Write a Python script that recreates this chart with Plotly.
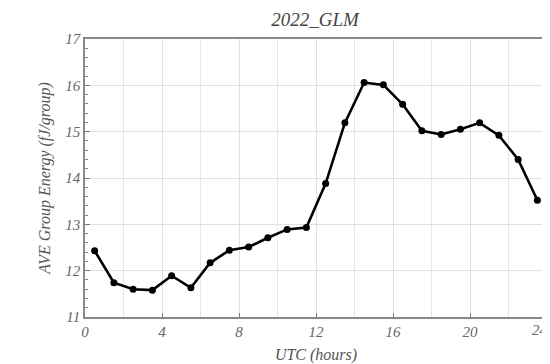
import plotly.graph_objects as go

hours = [0.5, 1.5, 2.5, 3.5, 4.5, 5.5, 6.5, 7.5, 8.5, 9.5, 10.5, 11.5,
         12.5, 13.5, 14.5, 15.5, 16.5, 17.5, 18.5, 19.5, 20.5, 21.5, 22.5, 23.5]
energy = [12.43, 11.74, 11.60, 11.58, 11.89, 11.63, 12.17, 12.44, 12.51, 12.71, 12.89, 12.93,
          13.88, 15.19, 16.06, 16.01, 15.59, 15.02, 14.94, 15.05, 15.19, 14.92, 14.40, 13.52]

x_ticks = [0, 4, 8, 12, 16, 20, 24]
title_text = "2022_GLM"
x_title = "UTC (hours)"
y_title = "AVE Group Energy (fJ/group)"

serif = "Liberation Serif, Times New Roman, serif"
tick_font = dict(family=serif, size=15, color="#666", style="italic")

# page body has an 8px default margin; figure sized to fit the 550x364 window
W, H = 542, 356

fig = go.Figure()
fig.add_trace(go.Scatter(
    x=hours, y=energy, mode="lines+markers",
    line=dict(color="black", width=2.6),
    marker=dict(color="black", size=7, symbol="circle"),
    showlegend=False,
    cliponaxis=False,
))

fig.update_layout(
    width=W, height=H,
    margin=dict(l=77, r=3, t=31, b=47, autoexpand=False),
    paper_bgcolor="white", plot_bgcolor="white",
    title=dict(text=title_text, x=307 / W, xanchor="center", y=1 - 11 / H, yanchor="middle",
               xref="container", yref="container",
               font=dict(family=serif, size=19, color="#444", style="italic")),
    font=dict(family=serif, color="#555"),
)
# last tick label at the right edge of the page, kept fully visible
fig.add_annotation(x=x_ticks[-1], y=0, xref="x", yref="paper", text=str(x_ticks[-1]),
                   showarrow=False, xanchor="right", yanchor="top", yshift=-3, xshift=3,
                   font=tick_font)
fig.update_xaxes(
    range=[0, 24], tickmode="array", tickvals=x_ticks[:-1],
    ticktext=[str(t) for t in x_ticks[:-1]],
    automargin=False,
    showgrid=True, gridcolor="#e0e0e0", gridwidth=1,
    minor=dict(dtick=2, showgrid=True, gridcolor="#e6e6e6", gridwidth=1),
    ticks="inside", ticklen=4, tickcolor="#777",
    showline=True, linecolor="#888", linewidth=1.5, mirror=True,
    zeroline=False,
    tickfont=tick_font,
    title=dict(text=x_title, standoff=12,
               font=dict(family=serif, size=16, color="#555", style="italic")),
)
fig.update_yaxes(
    range=[11, 17], tickmode="linear", tick0=11, dtick=1,
    automargin=False,
    showgrid=True, gridcolor="#e0e0e0", gridwidth=1,
    ticks="inside", ticklen=5, tickcolor="#777",
    minor=dict(dtick=0.2, ticks="inside", ticklen=3, tickcolor="#888", showgrid=False),
    showline=True, linecolor="#888", linewidth=1.5, mirror=True,
    zeroline=False,
    tickfont=tick_font,
    title=dict(text=y_title, standoff=11,
               font=dict(family=serif, size=16, color="#555", style="italic")),
)

fig.write_html("out.html")
